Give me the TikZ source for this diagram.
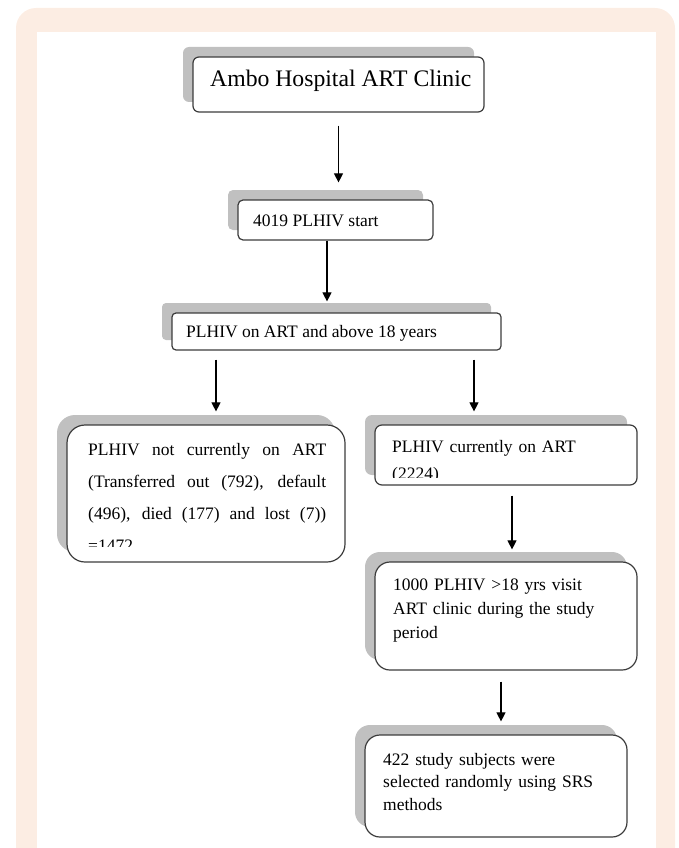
\documentclass[tikz,border=0pt]{standalone}
\usepackage{fontspec}
\setmainfont{Liberation Serif}
\usepackage{tikz}
\usetikzlibrary{shapes,arrows.meta,shadows}

\definecolor{framepeach}{HTML}{FCEDE3}
\definecolor{shadowgray}{HTML}{C0C0C0}
\definecolor{boxline}{HTML}{3C3C3C}

\begin{document}
\begin{tikzpicture}[x=1pt,y=-1pt]
      \tikzstyle{box} = [rectangle, draw=boxline, line width=1.2pt, fill=white, inner sep=0pt,
        drop shadow={shadow xshift=-10pt, shadow yshift=10pt, opacity=1, fill=shadowgray}]
      \tikzstyle{txt} = [inner sep=0pt, anchor=base west, font=\fontsize{17.5}{31}\selectfont]
      \tikzstyle{arr} = [line width=1.1pt, -{Triangle[length=9pt,width=9pt]}]
      \useasboundingbox (0,0) rectangle (678,848);
      \clip (0,0) rectangle (678,848);
      % page frame
      \fill[framepeach, rounded corners=20pt] (16,8) rectangle (675,880);
      \fill[white] (37,32) rectangle (656,870);
      % boxes
      \node (clinic) [box, minimum width=291pt, minimum height=55pt, rounded corners=6pt] at (338.5,84.5) {};
      \node (start) [box, minimum width=195pt, minimum height=40pt, rounded corners=5pt] at (335.5,220) {};
      \node (onart) [box, minimum width=329pt, minimum height=37pt, rounded corners=4pt] at (336.5,331.5) {};
      \node (notart) [box, minimum width=278pt, minimum height=137pt, rounded corners=18pt] at (206,493.5) {};
      \node (curart) [box, minimum width=262pt, minimum height=60pt, rounded corners=7pt] at (506,455) {};
      \node (visit) [box, minimum width=262pt, minimum height=108pt, rounded corners=15pt] at (506,616) {};
      \node (subjects) [box, minimum width=262pt, minimum height=102pt, rounded corners=15pt] at (496,786) {};
      % texts
      \node (clinictxt) [txt, font=\fontsize{23.7}{28}\selectfont] at (210,86.7) {Ambo Hospital ART Clinic};
      \node (starttxt) [txt] at (253,226) {4019 PLHIV start};
      \node (onarttxt) [txt] at (186,337) {PLHIV on ART and above 18 years};
      \begin{scope}
        \clip (60,420) rectangle (350,546);
        \node (notarttxt) [txt, font=\fontsize{17.5}{32}\selectfont, text width=238pt, align=justify] at (88,455)
          {PLHIV not currently on ART\linebreak (Transferred out (792), default\linebreak (496), died (177) and lost (7))\linebreak =1472};
      \end{scope}
      \begin{scope}
        \clip (370,420) rectangle (640,477);
        \node (curarttxt) [txt, font=\fontsize{17.5}{27}\selectfont, text width=240pt, align=left] at (392,452)
          {PLHIV currently on ART\\ (2224)};
      \end{scope}
      \node (visittxt) [txt, font=\fontsize{17.5}{24}\selectfont, text width=240pt, align=left] at (393,590)
        {1000 PLHIV >18 yrs visit\\ ART clinic during the study\\ period};
      \node (subjtxt) [txt, font=\fontsize{17.5}{22.5}\selectfont, text width=240pt, align=left] at (383,765)
        {422 study subjects were\\ selected randomly using SRS\\ methods};
      % arrows
      \draw [arr, shorten <=13pt, shorten >=17pt] (clinic.south) -- (clinic.south |- start.north);
      \draw [arr, shorten >=11pt] ([xshift=-8.5pt]start.south) -- ([xshift=-8.5pt]start.south |- onart.north);
      \draw [arr, shorten <=9pt, shorten >=13pt] ([xshift=10pt]notart.north |- onart.south) -- ([xshift=10pt]notart.north);
      \draw [arr, shorten <=9pt, shorten >=13pt] ([xshift=-32pt]curart.north |- onart.south) -- ([xshift=-32pt]curart.north);
      \draw [arr, shorten <=10pt, shorten >=12pt] ([xshift=6pt]curart.south) -- ([xshift=6pt]curart.south |- visit.north);
      \draw [arr, shorten <=11pt, shorten >=13pt] ([xshift=-5pt]visit.south) -- ([xshift=-5pt]visit.south |- subjects.north);
\end{tikzpicture}
\end{document}
